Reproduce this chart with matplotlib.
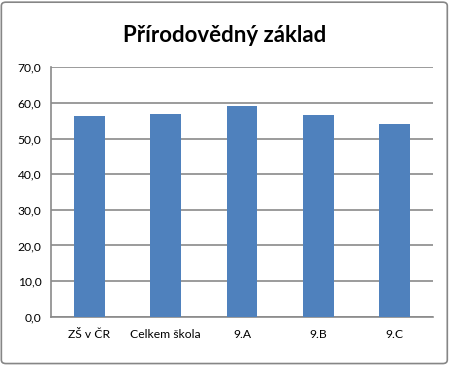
import matplotlib
matplotlib.use("Agg")
import matplotlib.pyplot as plt
from matplotlib.patches import FancyBboxPatch

categories = ["ZŠ v ČR", "Celkem škola", "9.A", "9.B", "9.C"]
values = [56.2, 56.8, 59.0, 56.5, 54.0]
yticks = [0, 10, 20, 30, 40, 50, 60, 70]
title = "Přírodovědný základ"

plt.rcParams['font.family'] = ['Lato', 'DejaVu Sans']

fig = plt.figure(figsize=(4.5, 3.65), dpi=100)
ax = fig.add_axes([0.114, 0.1323, 0.8476, 0.6833])

x = range(len(categories))
ax.bar(x, values, width=0.4, color="#4F81BD", zorder=3)
ax.set_xlim(-0.5, len(categories) - 0.5)
ax.set_ylim(0, 70)
ax.set_yticks(yticks)
ax.set_yticklabels([f"{v:.1f}".replace(".", ",") for v in yticks], fontsize=8.7)
ax.set_xticks(list(x))
ax.set_xticklabels(categories, fontsize=8.7)
ax.tick_params(axis='both', length=0, colors='black')
ax.tick_params(axis='y', pad=7)
ax.tick_params(axis='x', pad=9)
ax.grid(axis='y', color="#8a8a8a", linewidth=1.2, zorder=0)
for s in ['top', 'right']:
    ax.spines[s].set_visible(False)
for s in ['left', 'bottom']:
    ax.spines[s].set_color("#8a8a8a")
    ax.spines[s].set_linewidth(1.2)

fig.text(0.5, 0.885, title, ha='center', va='baseline', fontsize=16, fontweight='bold')

border = FancyBboxPatch((0.003, 0.004), 0.991, 0.99, boxstyle="round,pad=0,rounding_size=0.01",
                        transform=fig.transFigure, facecolor='none', edgecolor="#868686", linewidth=1.2)
fig.patches.append(border)

fig.savefig("out.png", dpi=100)
